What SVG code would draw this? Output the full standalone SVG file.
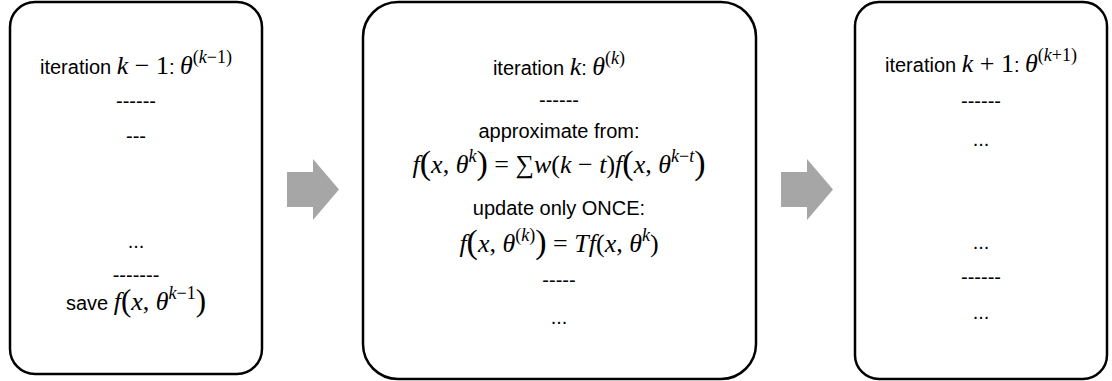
<svg xmlns="http://www.w3.org/2000/svg" width="1112" height="381" viewBox="0 0 1112 381">
<style>
.box{fill:#fff;stroke:#000;stroke-width:2.5}
.arr{fill:#a6a6a6}
text{fill:#000;text-anchor:middle}
.t{font-family:"Liberation Sans",Arial,sans-serif;font-size:20px}
.mth{font-family:"Liberation Serif","Times New Roman",serif;font-size:26px}
.m{font-family:"Liberation Serif","Times New Roman",serif;font-style:italic}
.r{font-family:"Liberation Serif","Times New Roman",serif;font-style:normal}
.z{font-size:26px}
.s{font-size:18px}
.p{font-size:34px;font-style:normal}
.p2{font-size:31px;font-style:normal}
</style>
<rect width="1112" height="381" fill="#fff"/>
<g id="connectors">
<path class="arr" d="M287,172 H313 V159 L339,189.5 L313,220 V207 H287 Z"/>
<path class="arr" d="M781,172 H807 V159 L833,189.5 L807,220 V207 H781 Z"/>
</g>
<g id="node-prev">
<rect class="box" x="10" y="2" width="252" height="372" rx="25"/>
<text class="t" x="136" y="74">iteration <tspan class="m z">k</tspan><tspan class="r z"> − 1</tspan>: <tspan class="m z">θ</tspan><tspan class="r s" dy="-11">(</tspan><tspan class="m s">k</tspan><tspan class="r s">−1)</tspan></text>
<text class="t" x="136" y="108">------</text>
<text class="t" x="136" y="143">---</text>
<text class="t" x="136" y="248">...</text>
<text class="t" x="136" y="282">-------</text>
<text class="t" x="136" y="310">save <tspan class="m z">f</tspan><tspan class="r p2" dy="1">(</tspan><tspan class="m z" dy="-1">x</tspan><tspan class="r z">, </tspan><tspan class="m z">θ</tspan><tspan class="m s" dy="-11">k</tspan><tspan class="r s">−1</tspan><tspan class="r p2" dy="12">)</tspan></text>
</g>
<g id="node-current">
<rect class="box" x="363" y="2" width="393" height="377" rx="35"/>
<text class="t" x="559" y="75">iteration <tspan class="m z">k</tspan>: <tspan class="m z">θ</tspan><tspan class="r s" dy="-11">(</tspan><tspan class="m s">k</tspan><tspan class="r s">)</tspan></text>
<text class="t" x="559" y="107">------</text>
<text class="t" x="559" y="138">approximate from:</text>
<text class="mth" x="559" y="173"><tspan class="m">f</tspan><tspan class="p" dy="1">(</tspan><tspan class="m" dy="-1">x</tspan>, <tspan class="m">θ</tspan><tspan class="m s" dy="-11">k</tspan><tspan class="p" dy="12">)</tspan><tspan dy="-1"> = ∑</tspan><tspan class="m">w</tspan>(<tspan class="m">k</tspan> − <tspan class="m">t</tspan>)<tspan class="m">f</tspan><tspan class="p" dy="1">(</tspan><tspan class="m" dy="-1">x</tspan>, <tspan class="m">θ</tspan><tspan class="m s" dy="-11">k</tspan><tspan class="r s">−</tspan><tspan class="m s">t</tspan><tspan class="p" dy="12">)</tspan></text>
<text class="t" x="559" y="215">update only ONCE:</text>
<text class="mth" x="559" y="252"><tspan class="m">f</tspan><tspan class="p" dy="1">(</tspan><tspan class="m" dy="-1">x</tspan>, <tspan class="m">θ</tspan><tspan class="r s" dy="-11">(</tspan><tspan class="m s">k</tspan><tspan class="r s">)</tspan><tspan class="p" dy="12">)</tspan><tspan dy="-1"> = </tspan><tspan class="m">Tf</tspan>(<tspan class="m">x</tspan>, <tspan class="m">θ</tspan><tspan class="m s" dy="-11">k</tspan><tspan dy="11">)</tspan></text>
<text class="t" x="559" y="287">-----</text>
<text class="t" x="559" y="324">...</text>
</g>
<g id="node-next">
<rect class="box" x="855" y="2" width="252" height="377" rx="24"/>
<text class="t" x="981" y="72">iteration <tspan class="m z">k</tspan><tspan class="r z"> + 1</tspan>: <tspan class="m z">θ</tspan><tspan class="r s" dy="-11">(</tspan><tspan class="m s">k</tspan><tspan class="r s">+1)</tspan></text>
<text class="t" x="981" y="108">------</text>
<text class="t" x="981" y="146">...</text>
<text class="t" x="981" y="249">...</text>
<text class="t" x="981" y="284">------</text>
<text class="t" x="981" y="319">...</text>
</g>
</svg>
